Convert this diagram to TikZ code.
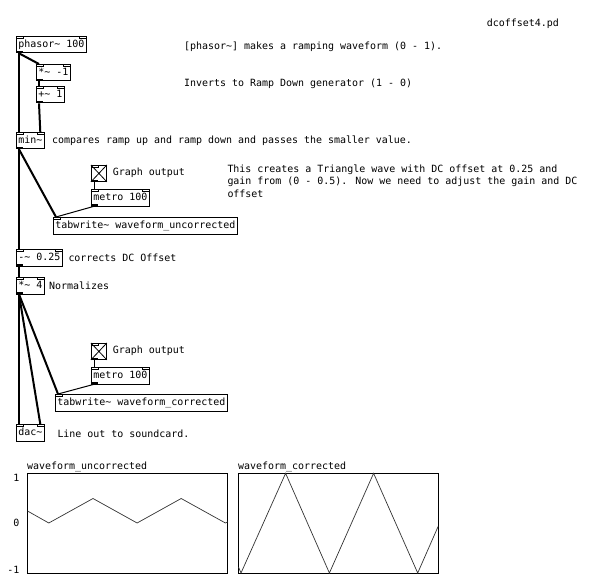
\documentclass[tikz,border=0pt]{standalone}
\usepackage{fontspec}
\usepackage{tikz}
\newfontfamily\pdfont{DejaVu Sans Mono}

\begin{document}
\begin{tikzpicture}[x=1pt,y=-1pt]
\tikzstyle{every node}+=[inner sep=0pt, font=\pdfont\fontsize{9.96}{12.6}\selectfont]
\tikzstyle{pdobj}=[draw, line width=0.8pt, anchor=north west, inner xsep=2pt, minimum height=16.5pt, text height=7.5pt, text depth=2pt]
\tikzstyle{pdtgl}=[draw, line width=0.8pt, anchor=north west, minimum width=15pt, minimum height=16pt]
\tikzstyle{pdnote}=[anchor=base west, align=left]
\tikzstyle{sig}=[line width=2pt]
\tikzstyle{ctl}=[line width=1pt]
\useasboundingbox [fill=white] (0,0) rectangle (591,588);
% objects
\node [pdobj] (phasor) at (16,36) {phasor\textasciitilde{} 100};
\node [pdobj] (timesneg) at (36,64) {*\textasciitilde{} -1};
\node [pdobj] (plusone) at (36,86) {+\textasciitilde{} 1};
\node [pdobj] (minobj) at (16,132) {min\textasciitilde};
\node [pdtgl] (tgla) at (91,165) {};
\node [pdobj] (metroa) at (91,189) {metro 100};
\node [pdobj] (tabwa) at (53,217) {tabwrite\textasciitilde{} waveform\_uncorrected};
\node [pdobj] (subobj) at (16,249) {-\textasciitilde{} 0.25};
\node [pdobj] (mulobj) at (16,277) {*\textasciitilde{} 4};
\node [pdtgl] (tglb) at (91,343) {};
\node [pdobj] (metrob) at (91,367) {metro 100};
\node [pdobj] (tabwb) at (55,394) {tabwrite\textasciitilde{} waveform\_corrected};
\node [pdobj] (dac) at (16,424) {dac\textasciitilde};
\draw [line width=0.8pt] (tgla.north west) -- (tgla.south east) (tgla.north east) -- (tgla.south west);
\draw [line width=0.8pt] (tglb.north west) -- (tglb.south east) (tglb.north east) -- (tglb.south west);
% inlets and outlets
\draw [line width=0.6pt] (phasor.north west) rectangle ++(7,2);
\draw [line width=0.6pt] (phasor.north east) rectangle ++(-7,2);
\fill (phasor.south west) rectangle ++(7,-2);
\draw [line width=0.6pt] (timesneg.north west) rectangle ++(7,2);
\draw [line width=0.6pt] (timesneg.north east) rectangle ++(-7,2);
\fill (timesneg.south west) rectangle ++(7,-2);
\draw [line width=0.6pt] (plusone.north west) rectangle ++(7,2);
\draw [line width=0.6pt] (plusone.north east) rectangle ++(-7,2);
\fill (plusone.south west) rectangle ++(7,-2);
\draw [line width=0.6pt] (minobj.north west) rectangle ++(7,2);
\draw [line width=0.6pt] (minobj.north east) rectangle ++(-7,2);
\fill (minobj.south west) rectangle ++(7,-2);
\draw [line width=0.6pt] (tgla.north west) rectangle ++(7,2);
\fill (tgla.south west) rectangle ++(7,-2);
\draw [line width=0.6pt] (metroa.north west) rectangle ++(7,2);
\draw [line width=0.6pt] (metroa.north east) rectangle ++(-7,2);
\fill (metroa.south west) rectangle ++(7,-2);
\draw [line width=0.6pt] (tabwa.north west) rectangle ++(7,2);
\draw [line width=0.6pt] (subobj.north west) rectangle ++(7,2);
\draw [line width=0.6pt] (subobj.north east) rectangle ++(-7,2);
\fill (subobj.south west) rectangle ++(7,-2);
\draw [line width=0.6pt] (mulobj.north west) rectangle ++(7,2);
\draw [line width=0.6pt] (mulobj.north east) rectangle ++(-7,2);
\fill (mulobj.south west) rectangle ++(7,-2);
\draw [line width=0.6pt] (tglb.north west) rectangle ++(7,2);
\fill (tglb.south west) rectangle ++(7,-2);
\draw [line width=0.6pt] (metrob.north west) rectangle ++(7,2);
\draw [line width=0.6pt] (metrob.north east) rectangle ++(-7,2);
\fill (metrob.south west) rectangle ++(7,-2);
\draw [line width=0.6pt] (tabwb.north west) rectangle ++(7,2);
\draw [line width=0.6pt] (dac.north west) rectangle ++(7,2);
\draw [line width=0.6pt] (dac.north east) rectangle ++(-7,2);
% connections
\draw [sig] ([xshift=3pt]phasor.south west) -- ([xshift=3pt]minobj.north west);
\draw [sig] ([xshift=3pt]phasor.south west) -- ([xshift=3pt]timesneg.north west);
\draw [sig] ([xshift=3pt]timesneg.south west) -- ([xshift=3pt]plusone.north west);
\draw [sig] ([xshift=3pt]plusone.south west) -- ([xshift=-4.5pt]minobj.north east);
\draw [sig] ([xshift=3pt]minobj.south west) -- ([xshift=3pt]tabwa.north west);
\draw [sig] ([xshift=3pt]minobj.south west) -- ([xshift=3pt]subobj.north west);
\draw [ctl] ([xshift=3pt]tgla.south west) -- ([xshift=3pt]metroa.north west);
\draw [ctl] ([xshift=3pt]metroa.south west) -- ([xshift=3pt]tabwa.north west);
\draw [sig] ([xshift=3pt]subobj.south west) -- ([xshift=3pt]mulobj.north west);
\draw [sig] ([xshift=3pt]mulobj.south west) -- ([xshift=3pt]dac.north west);
\draw [sig] ([xshift=3pt]mulobj.south west) -- ([xshift=-4.5pt]dac.north east);
\draw [sig] ([xshift=3pt]mulobj.south west) -- ([xshift=3pt]tabwb.north west);
\draw [ctl] ([xshift=3pt]tglb.south west) -- ([xshift=3pt]metrob.north west);
\draw [ctl] ([xshift=3pt]metrob.south west) -- ([xshift=3pt]tabwb.north west);
% comments
\node [pdnote] (title) at (486.7,26.3) {dcoffset4.pd};
\node [pdnote] (notephasor) at (184,49.5) {[phasor\textasciitilde] makes a ramping waveform (0 - 1).};
\node [pdnote] (noteinvert) at (184,86.5) {Inverts to Ramp Down generator (1 - 0)};
\node [pdnote] (notemin) at (52,143.5) {compares ramp up and ramp down and passes the smaller value.};
\node [pdnote] (notegrapha) at (112.7,175.5) {Graph output};
\node [pdnote, anchor=north west] (notetri) at (227.3,164.2) {This creates a Triangle wave with DC offset at 0.25 and\\gain from (0 - 0.5). Now we need to adjust the gain and DC\\offset};
\node [pdnote] (notedc) at (68.3,261.5) {corrects DC Offset};
\node [pdnote] (notenorm) at (49,289.5) {Normalizes};
\node [pdnote] (notegraphb) at (112.7,353.5) {Graph output};
\node [pdnote] (notedac) at (57.3,437.5) {Line out to soundcard.};
% arrays
\node [pdnote] (labela) at (27,469.5) {waveform\_uncorrected};
\node [pdnote] (labelb) at (238,469.5) {waveform\_corrected};
\node [anchor=base east] (ymax) at (19.5,481.5) {1};
\node [anchor=base east] (yzero) at (19.5,526.5) {0};
\node [anchor=base east] (ymin) at (19.5,573.5) {-1};
\draw [line width=0.8pt] (27.3,473.3) rectangle (227.7,573.3);
\draw [line width=0.8pt] (238.3,473.3) rectangle (438.3,573.3);
\draw [line width=0.7pt, black!80] (27.5,511) -- (48.8,523) -- (93,498.5) -- (137.1,523) -- (181.2,498.5) -- (225.4,523) -- (227.7,521.8);
\draw [line width=0.7pt, black!80] (238.5,567) -- (241,573) -- (285.6,473.3) -- (329.4,573) -- (373.6,473.3) -- (417.7,573) -- (438.1,526.5);
\end{tikzpicture}
\end{document}
